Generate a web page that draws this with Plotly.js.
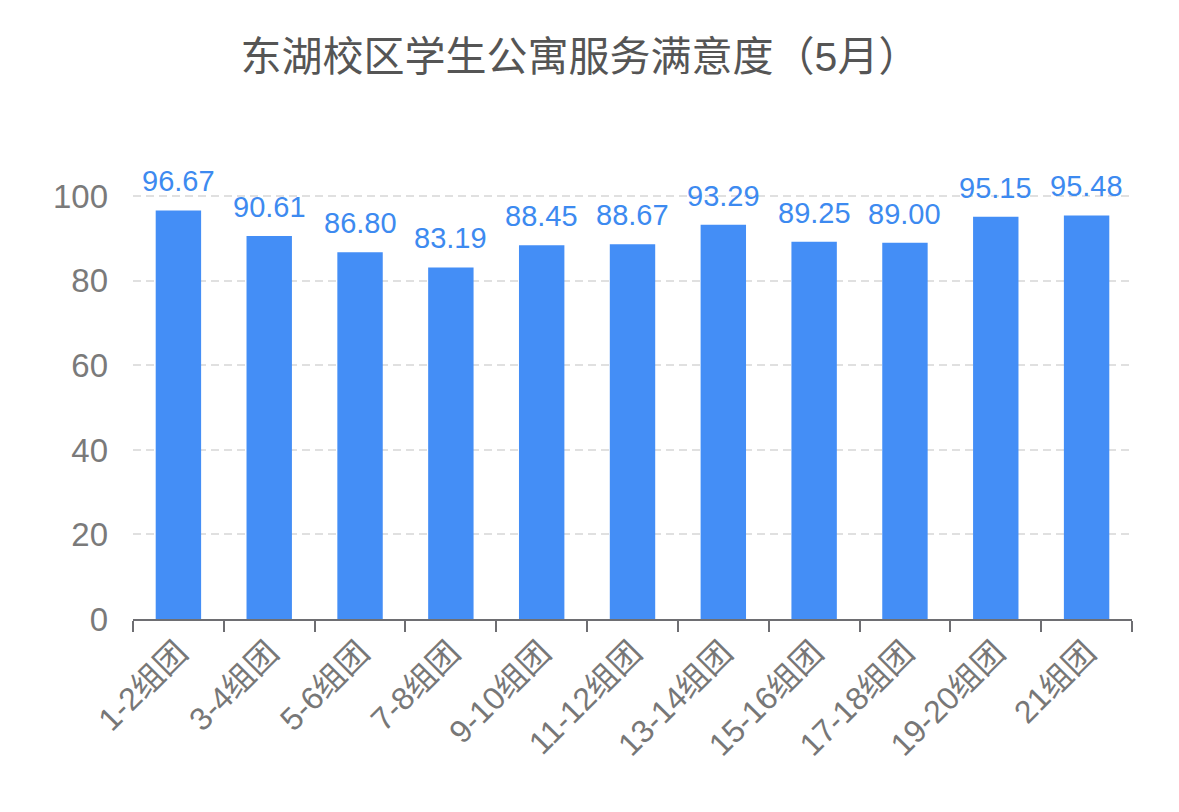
<!DOCTYPE html>
<html>
<head>
<meta charset="utf-8">
<script src="https://cdn.plot.ly/plotly-3.0.1.min.js"></script>
<style>html,body{margin:0;padding:0;background:#fff;}#chart{width:1179px;height:812px;}</style>
</head>
<body>
<div id="chart"></div>
<script>
const categories = ["1-2组团","3-4组团","5-6组团","7-8组团","9-10组团","11-12组团","13-14组团","15-16组团","17-18组团","19-20组团","21组团"];
const satisfaction = [96.67, 90.61, 86.80, 83.19, 88.45, 88.67, 93.29, 89.25, 89.00, 95.15, 95.48];
const yTicks = [0, 20, 40, 60, 80, 100];
const chartTitle = "东湖校区学生公寓服务满意度（5月）";

const fontFam = '"Liberation Sans", "Noto Sans CJK SC", sans-serif';
const trace = {
  type: "bar",
  x: categories,
  y: satisfaction,
  marker: {color: "#448ef6"},
  hoverinfo: "none"
};
const labels = categories.map((c, i) => ({
  x: c, y: satisfaction[i], xref: "x", yref: "y",
  text: satisfaction[i].toFixed(2),
  showarrow: false, yanchor: "bottom", yshift: 11,
  font: {size: 29, color: "#3d8af0", family: fontFam}
}));
const layout = {
  width: 1179, height: 812,
  margin: {l: 133, r: 47, t: 190, b: 193},
  paper_bgcolor: "#fff", plot_bgcolor: "#fff",
  font: {family: fontFam},
  title: {text: chartTitle, x: 580/1179, xref: "container", xanchor: "center",
          y: 1 - 57/812, yref: "container", yanchor: "middle",
          font: {size: 41, color: "#555", family: fontFam}},
  bargap: 0.5,
  showlegend: false,
  annotations: labels,
  xaxis: {
    type: "category",
    showline: true, linecolor: "#6e6e72", linewidth: 2,
    ticks: "outside", tickson: "boundaries", ticklen: 11, tickwidth: 2, tickcolor: "#6e6e72",
    tickangle: -45,
    tickfont: {size: 32, color: "#777", family: fontFam},
    showgrid: false, zeroline: false
  },
  yaxis: {
    range: [0, 101.5],
    tickvals: yTicks,
    ticktext: yTicks.map(String),
    tickfont: {size: 33, color: "#7a7a7a", family: fontFam},
    showgrid: true, gridcolor: "#e0e0e0", griddash: "8px,5px", gridwidth: 2,
    zeroline: false, showline: false, ticks: "", ticklabelstandoff: 24
  }
};
Plotly.newPlot("chart", [trace], layout, {staticPlot: true, displayModeBar: false});
</script>
</body>
</html>
